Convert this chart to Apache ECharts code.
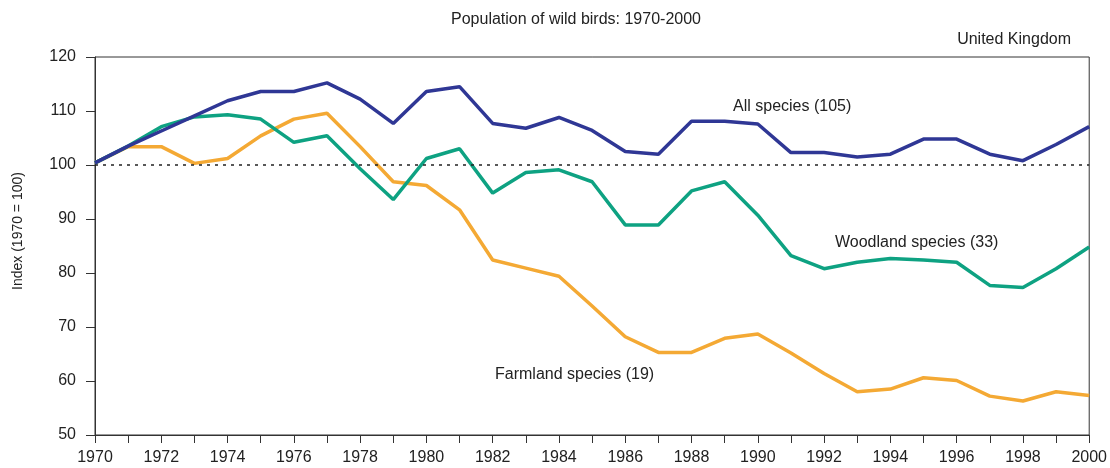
<!DOCTYPE html>
<html>
<head>
<meta charset="utf-8">
<script src="https://cdn.jsdelivr.net/npm/echarts@6/dist/echarts.min.js"></script>
<style>
  html, body { margin: 0; padding: 0; background: #fff; }
  #chart { width: 1110px; height: 468px; }
</style>
</head>
<body>
<div id="chart"></div>
<script>
var years = [];
for (var y = 1970; y <= 2000; y++) years.push(y);

// index values (1970 = 100)
var allSpecies = [100.4, 103.5, 106.3, 109.1, 111.9, 113.6, 113.6, 115.2, 112.2, 107.7,
    113.6, 114.5, 107.7, 106.8, 108.8, 106.4, 102.5, 102.0, 108.1, 108.1,
    107.6, 102.3, 102.3, 101.5, 102.0, 104.8, 104.8, 102.0, 100.8, 103.8, 107.1];
var woodland = [100.4, 103.5, 107.1, 108.9, 109.3, 108.5, 104.2, 105.4, 99.3, 93.6,
    101.2, 103.0, 94.8, 98.6, 99.1, 96.9, 88.9, 88.9, 95.2, 96.9,
    90.7, 83.2, 80.8, 82.0, 82.7, 82.4, 82.0, 77.7, 77.3, 80.8, 84.8];
var farmland = [100.4, 103.4, 103.4, 100.3, 101.2, 105.4, 108.5, 109.6, 103.4, 96.9,
    96.2, 91.7, 82.4, 80.9, 79.4, 73.9, 68.2, 65.3, 65.3, 67.9,
    68.7, 65.2, 61.4, 58.0, 58.5, 60.6, 60.1, 57.2, 56.3, 58.0, 57.3];

function pairs(arr) {
    var out = [];
    for (var i = 0; i < arr.length; i++) out.push([years[i], arr[i]]);
    return out;
}

var chart = echarts.init(document.getElementById('chart'));
var font = 'Liberation Sans, Arial, sans-serif';

chart.setOption({
    animation: false,
    textStyle: { fontFamily: font },
    title: [{
        text: 'Population of wild birds: 1970-2000',
        left: 571, top: 7, textAlign: 'center',
        textStyle: { fontSize: 16, fontWeight: 'normal', color: '#222', fontFamily: font }
    }, {
        text: 'United Kingdom',
        right: 34, top: 27,
        textStyle: { fontSize: 16, fontWeight: 'normal', color: '#222', fontFamily: font }
    }],
    grid: {
        left: 95, right: 20, top: 57, bottom: 33,
        show: true, borderColor: '#333', borderWidth: 1
    },
    xAxis: {
        type: 'value', min: 1970, max: 2000, interval: 1,
        axisLine: { lineStyle: { color: '#333', width: 1 } },
        axisTick: { show: true, length: 8, lineStyle: { color: '#333' } },
        splitLine: { show: false },
        axisLabel: {
            fontSize: 16, color: '#222', margin: 15, fontFamily: font,
            formatter: function (v) { return v % 2 === 0 ? String(v) : ''; }
        }
    },
    yAxis: {
        type: 'value', min: 50, max: 120, interval: 10,
        axisLine: { show: true, lineStyle: { color: '#333', width: 1 } },
        axisTick: { show: true, length: 9, lineStyle: { color: '#333' } },
        splitLine: { show: false },
        axisLabel: { fontSize: 16, color: '#222', margin: 19, fontFamily: font }
    },
    series: [{
        name: 'Farmland species (19)', type: 'line', data: pairs(farmland),
        showSymbol: false, symbol: 'none',
        lineStyle: { color: '#f4a934', width: 3.5 }, z: 3
    }, {
        name: 'Woodland species (33)', type: 'line', data: pairs(woodland),
        showSymbol: false, symbol: 'none',
        lineStyle: { color: '#0ea282', width: 3.5 }, z: 4
    }, {
        name: 'All species (105)', type: 'line', data: pairs(allSpecies),
        showSymbol: false, symbol: 'none',
        lineStyle: { color: '#2f3795', width: 3.5 }, z: 5,
        markLine: {
            silent: true, symbol: 'none', label: { show: false },
            lineStyle: { color: '#222', width: 1.5, type: [3, 5] },
            data: [{ yAxis: 100 }]
        }
    }],
    graphic: [{
        type: 'text', x: 18, y: 231, rotation: Math.PI / 2,
        style: {
            text: 'Index (1970 = 100)', font: '14px ' + font, fill: '#222',
            align: 'center', verticalAlign: 'middle'
        }
    }, {
        type: 'text', left: 733, top: 99,
        style: { text: 'All species (105)', font: '16px ' + font, fill: '#222' }
    }, {
        type: 'text', left: 835, top: 235,
        style: { text: 'Woodland species (33)', font: '16px ' + font, fill: '#222' }
    }, {
        type: 'text', left: 495, top: 367,
        style: { text: 'Farmland species (19)', font: '16px ' + font, fill: '#222' }
    }]
});

window.onresize = function () {
    chart.resize();
};
</script>
</body>
</html>
